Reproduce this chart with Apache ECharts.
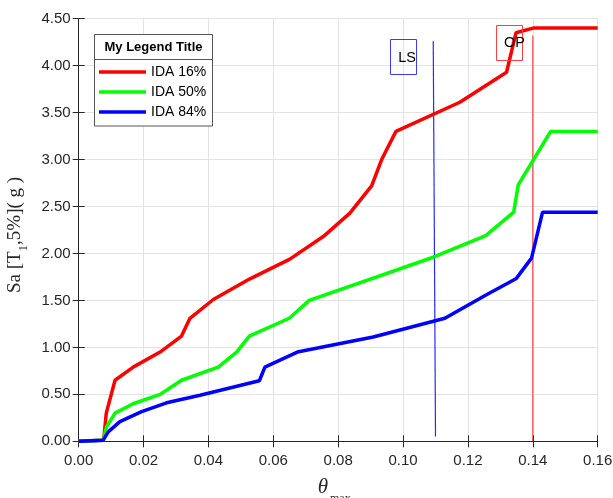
<!DOCTYPE html>
<html>
<head>
<meta charset="utf-8">
<script src="https://cdn.jsdelivr.net/npm/echarts@6/dist/echarts.min.js"></script>
<style>html,body{margin:0;padding:0;background:#fff}#c{width:613px;height:498px}</style>
</head>
<body>
<div id="c"></div>
<script>
// ---- data ----
const seriesNames = ['IDA 16%', 'IDA 50%', 'IDA 84%'];
const ida16X = [0, 0.0075, 0.0078, 0.0085, 0.0112, 0.0168, 0.0251, 0.0317, 0.0343, 0.0415, 0.0528, 0.0651, 0.0754, 0.0836, 0.0903, 0.0934, 0.0978, 0.1175, 0.1319, 0.1348, 0.1401, 0.16];
const ida16Y = [0, 0.01, 0.05, 0.30, 0.65, 0.79, 0.95, 1.12, 1.31, 1.51, 1.73, 1.94, 2.18, 2.43, 2.72, 3.00, 3.30, 3.61, 3.93, 4.35, 4.40, 4.40];
const ida50X = [0, 0.0075, 0.0086, 0.0112, 0.0168, 0.0251, 0.0317, 0.0430, 0.0487, 0.0526, 0.0649, 0.0711, 0.1093, 0.1255, 0.1341, 0.1355, 0.1455, 0.16];
const ida50Y = [0, 0.01, 0.155, 0.30, 0.40, 0.50, 0.65, 0.79, 0.95, 1.12, 1.31, 1.50, 1.96, 2.19, 2.44, 2.73, 3.30, 3.30];
const ida84X = [0, 0.0075, 0.0091, 0.0127, 0.0194, 0.0271, 0.0374, 0.0557, 0.0574, 0.0674, 0.0908, 0.1129, 0.1257, 0.1348, 0.1396, 0.1430, 0.16];
const ida84Y = [0, 0.01, 0.10, 0.21, 0.315, 0.41, 0.49, 0.645, 0.79, 0.95, 1.11, 1.31, 1.56, 1.73, 1.95, 2.44, 2.44];
const lsX = [0.1093, 0.1100];
const lsY = [4.26, 0.05];
const opX = [0.14, 0.14];
const opY = [4.32, 0];
const xTickLabels = ['0.00','0.02','0.04','0.06','0.08','0.10','0.12','0.14','0.16'];
const yTickLabels = ['0.00','0.50','1.00','1.50','2.00','2.50','3.00','3.50','4.00','4.50'];

const zip = (xs, ys) => xs.map((x, i) => [x, ys[i]]);
const chart = echarts.init(document.getElementById('c'), null, {renderer: 'canvas'});
const axisColor = '#262626';
const font = 'Arial, "Liberation Sans", Helvetica, sans-serif';
const serif = '"Times New Roman", "Liberation Serif", serif';

const option = {
  animation: false,
  backgroundColor: '#fff',
  grid: {left: 78.7, right: 15.3, top: 18.7, bottom: 56.7, containLabel: false, outerBoundsMode: 'none'},
  legend: {
    data: seriesNames,
    orient: 'vertical',
    left: 99, top: 64,
    padding: 0,
    z: 20,
    icon: 'rect',
    itemWidth: 47, itemHeight: 3.5,
    itemGap: 4,
    textStyle: {fontSize: 14, color: '#000', fontFamily: font, lineHeight: 16}
  },
  xAxis: [{
    type: 'value', min: 0, max: 0.16, interval: 0.02,
    axisLine: {show: true, lineStyle: {color: axisColor, width: 1}},
    axisTick: {show: true, inside: true, length: 6, lineStyle: {color: axisColor}},
    axisLabel: {fontSize: 15, color: axisColor, fontFamily: font, margin: 12,
      formatter: (v) => xTickLabels[Math.round(v / 0.02)]},
    splitLine: {show: true, lineStyle: {color: '#e3e3e3', width: 1}},
    name: '{t|θ}{s|max}',
    nameLocation: 'middle', nameGap: 34,
    nameTextStyle: {padding: [0, 8, 0, 0], rich: {
      t: {fontSize: 21, fontStyle: 'italic', fontFamily: serif, color: axisColor, lineHeight: 24},
      s: {fontSize: 12, fontFamily: serif, color: axisColor, verticalAlign: 'bottom', padding: [0,0,-6,2]}
    }}
  }, {
    type: 'value', min: 0, max: 0.16, interval: 0.02, position: 'top',
    axisLine: {show: true, lineStyle: {color: axisColor, width: 1}},
    axisTick: {show: true, inside: true, length: 6, lineStyle: {color: axisColor}},
    axisLabel: {show: false}, splitLine: {show: false}
  }],
  yAxis: [{
    type: 'value', min: 0, max: 4.5, interval: 0.5,
    axisLine: {show: true, lineStyle: {color: '#8a8a8a', width: 1}},
    axisTick: {show: true, inside: true, length: 6, lineStyle: {color: axisColor}},
    axisLabel: {fontSize: 15, color: axisColor, fontFamily: font, margin: 8,
      formatter: (v) => yTickLabels[Math.round(v / 0.5)]},
    splitLine: {show: true, lineStyle: {color: '#e3e3e3', width: 1}},
    name: '{a|Sa [T}{s|1}{a|,5%]( g )}',
    nameLocation: 'middle', nameRotate: 90, nameGap: 52,
    nameTextStyle: {padding: [0, 10, 0, 0], rich: {
      a: {fontSize: 19, fontFamily: serif, color: axisColor, lineHeight: 24},
      s: {fontSize: 13, fontFamily: serif, color: axisColor, verticalAlign: 'bottom', padding: [0,0,-3,0]}
    }}
  }, {
    type: 'value', min: 0, max: 4.5, interval: 0.5, position: 'right',
    axisLine: {show: true, lineStyle: {color: axisColor, width: 1}},
    axisTick: {show: true, inside: true, length: 6, lineStyle: {color: axisColor}},
    axisLabel: {show: false}, splitLine: {show: false}
  }],
  series: [
    {name: seriesNames[0], type: 'line', data: zip(ida16X, ida16Y), symbol: 'none',
      lineStyle: {color: '#ff0000', width: 3.5}, itemStyle: {color: '#ff0000'}, z: 5},
    {name: seriesNames[1], type: 'line', data: zip(ida50X, ida50Y), symbol: 'none',
      lineStyle: {color: '#00ff00', width: 3.5}, itemStyle: {color: '#00ff00'}, z: 5},
    {name: seriesNames[2], type: 'line', data: zip(ida84X, ida84Y), symbol: 'none',
      lineStyle: {color: '#0000ff', width: 3.5}, itemStyle: {color: '#0000ff'}, z: 5},
    {name: 'LS', type: 'line', data: zip(lsX, lsY), symbol: 'none',
      lineStyle: {color: '#2a2aff', width: 1.2}, z: 4},
    {name: 'OP', type: 'line', data: zip(opX, opY), symbol: 'none',
      lineStyle: {color: '#ff2020', width: 1}, z: 4}
  ],
  graphic: [
    {type: 'rect', shape: {x: 94.5, y: 34.5, width: 118, height: 91.5},
      style: {fill: '#fff', stroke: '#555', lineWidth: 1}, z: 10},
    {type: 'line', shape: {x1: 94.5, y1: 59.5, x2: 212.5, y2: 59.5},
      style: {stroke: '#555', lineWidth: 1}, z: 11},
    {type: 'text', x: 153.5, y: 47.5, z: 11,
      style: {text: 'My Legend Title', fontSize: 13, fontWeight: 'bold', fontFamily: font,
        fill: '#000', align: 'center', verticalAlign: 'middle'}},
    {type: 'rect', shape: {x: 390.5, y: 39.5, width: 26, height: 35},
      style: {fill: 'none', stroke: '#3b3bff', lineWidth: 1}, z: 6},
    {type: 'text', x: 407, y: 57.5, z: 6,
      style: {text: 'LS', fontSize: 14.5, fontFamily: font, fill: '#000', align: 'center', verticalAlign: 'middle'}},
    {type: 'rect', shape: {x: 496.5, y: 25.5, width: 26, height: 35},
      style: {fill: 'none', stroke: '#ff4040', lineWidth: 1}, z: 6},
    {type: 'text', x: 514.5, y: 43, z: 6,
      style: {text: 'OP', fontSize: 14.5, fontFamily: font, fill: '#000', align: 'center', verticalAlign: 'middle'}}
  ]
};
chart.setOption(option);
</script>
</body>
</html>
